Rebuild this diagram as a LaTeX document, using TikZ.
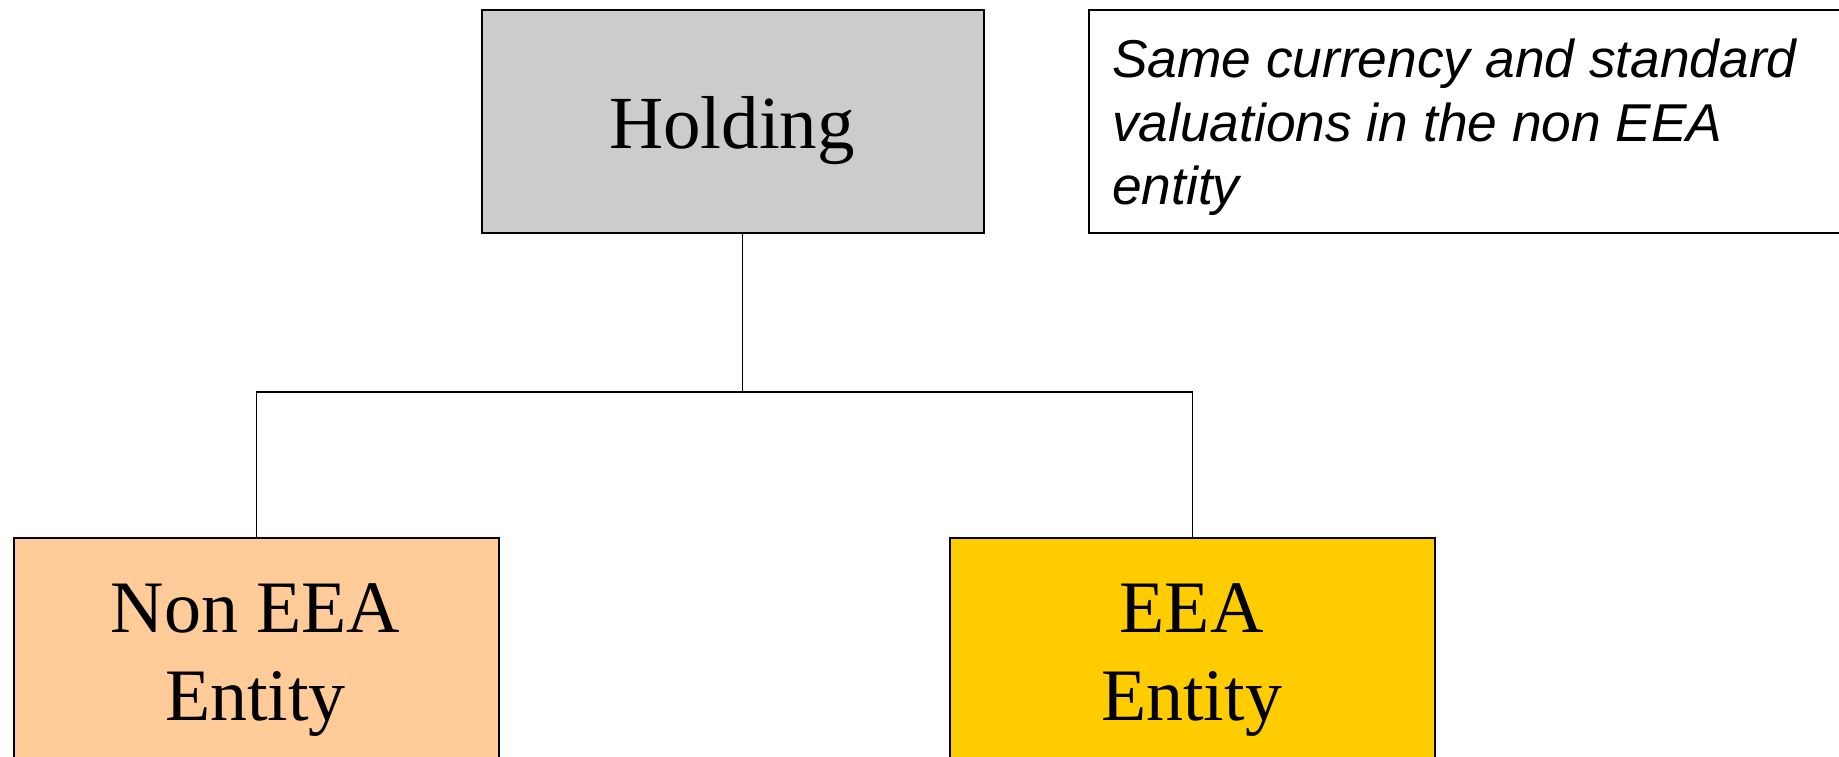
\documentclass[tikz,border=0pt]{standalone}
\usepackage{fontspec}
\setmainfont{Liberation Serif}
\newfontfamily\notefont{Liberation Sans}
\definecolor{holdgray}{HTML}{CCCCCC}
\definecolor{peach}{HTML}{FFCC99}
\definecolor{eeayellow}{HTML}{FFCC00}
\tikzset{
  entbox/.style={draw=black, line width=1.8pt, rectangle, inner sep=0pt, anchor=north west},
  bigtext/.style={font=\fontsize{74}{88}\selectfont, inner sep=0pt, anchor=base},
  notetext/.style={font=\notefont\itshape\fontsize{53.3}{63}\selectfont, inner sep=0pt, anchor=base west},
  conn/.style={draw=black, line width=1.8pt}
}
\begin{document}
\begin{tikzpicture}[x=1pt,y=-1pt]
\useasboundingbox (0,0) rectangle (1839,756);
% boxes
\node[entbox, fill=holdgray, minimum width=502pt, minimum height=223pt] (hold) at (481,9) {};
\node[bigtext, font=\fontsize{75}{88}\selectfont] (holdtxt) at (732,148) {Holding};
\node[entbox, fill=white, minimum width=780pt, minimum height=223pt] (note) at (1088,9) {};
\node[notetext] (note1) at (1112,77.5) {Same currency and standard};
\node[notetext] (note2) at (1112,141) {valuations in the non EEA};
\node[notetext] (note3) at (1112,204) {entity};
\node[entbox, fill=peach, minimum width=485pt, minimum height=300pt] (nonee) at (13,537) {};
\node[bigtext] (nonee1) at (255.5,632) {Non EEA};
\node[bigtext] (nonee2) at (255.5,720) {Entity};
\node[entbox, fill=eeayellow, minimum width=485pt, minimum height=300pt] (eea) at (949,537) {};
\node[bigtext] (eea1) at (1191.5,632) {EEA};
\node[bigtext] (eea2) at (1191.5,720) {Entity};
% connectors
\coordinate (hj) at ([xshift=9.5pt]hold.south);
\coordinate (bus) at ([yshift=-158pt]hj);
\draw[conn] (hj) -- (bus);
\draw[conn] (nonee.north) |- (bus) -| (eea.north);
\end{tikzpicture}
\end{document}
